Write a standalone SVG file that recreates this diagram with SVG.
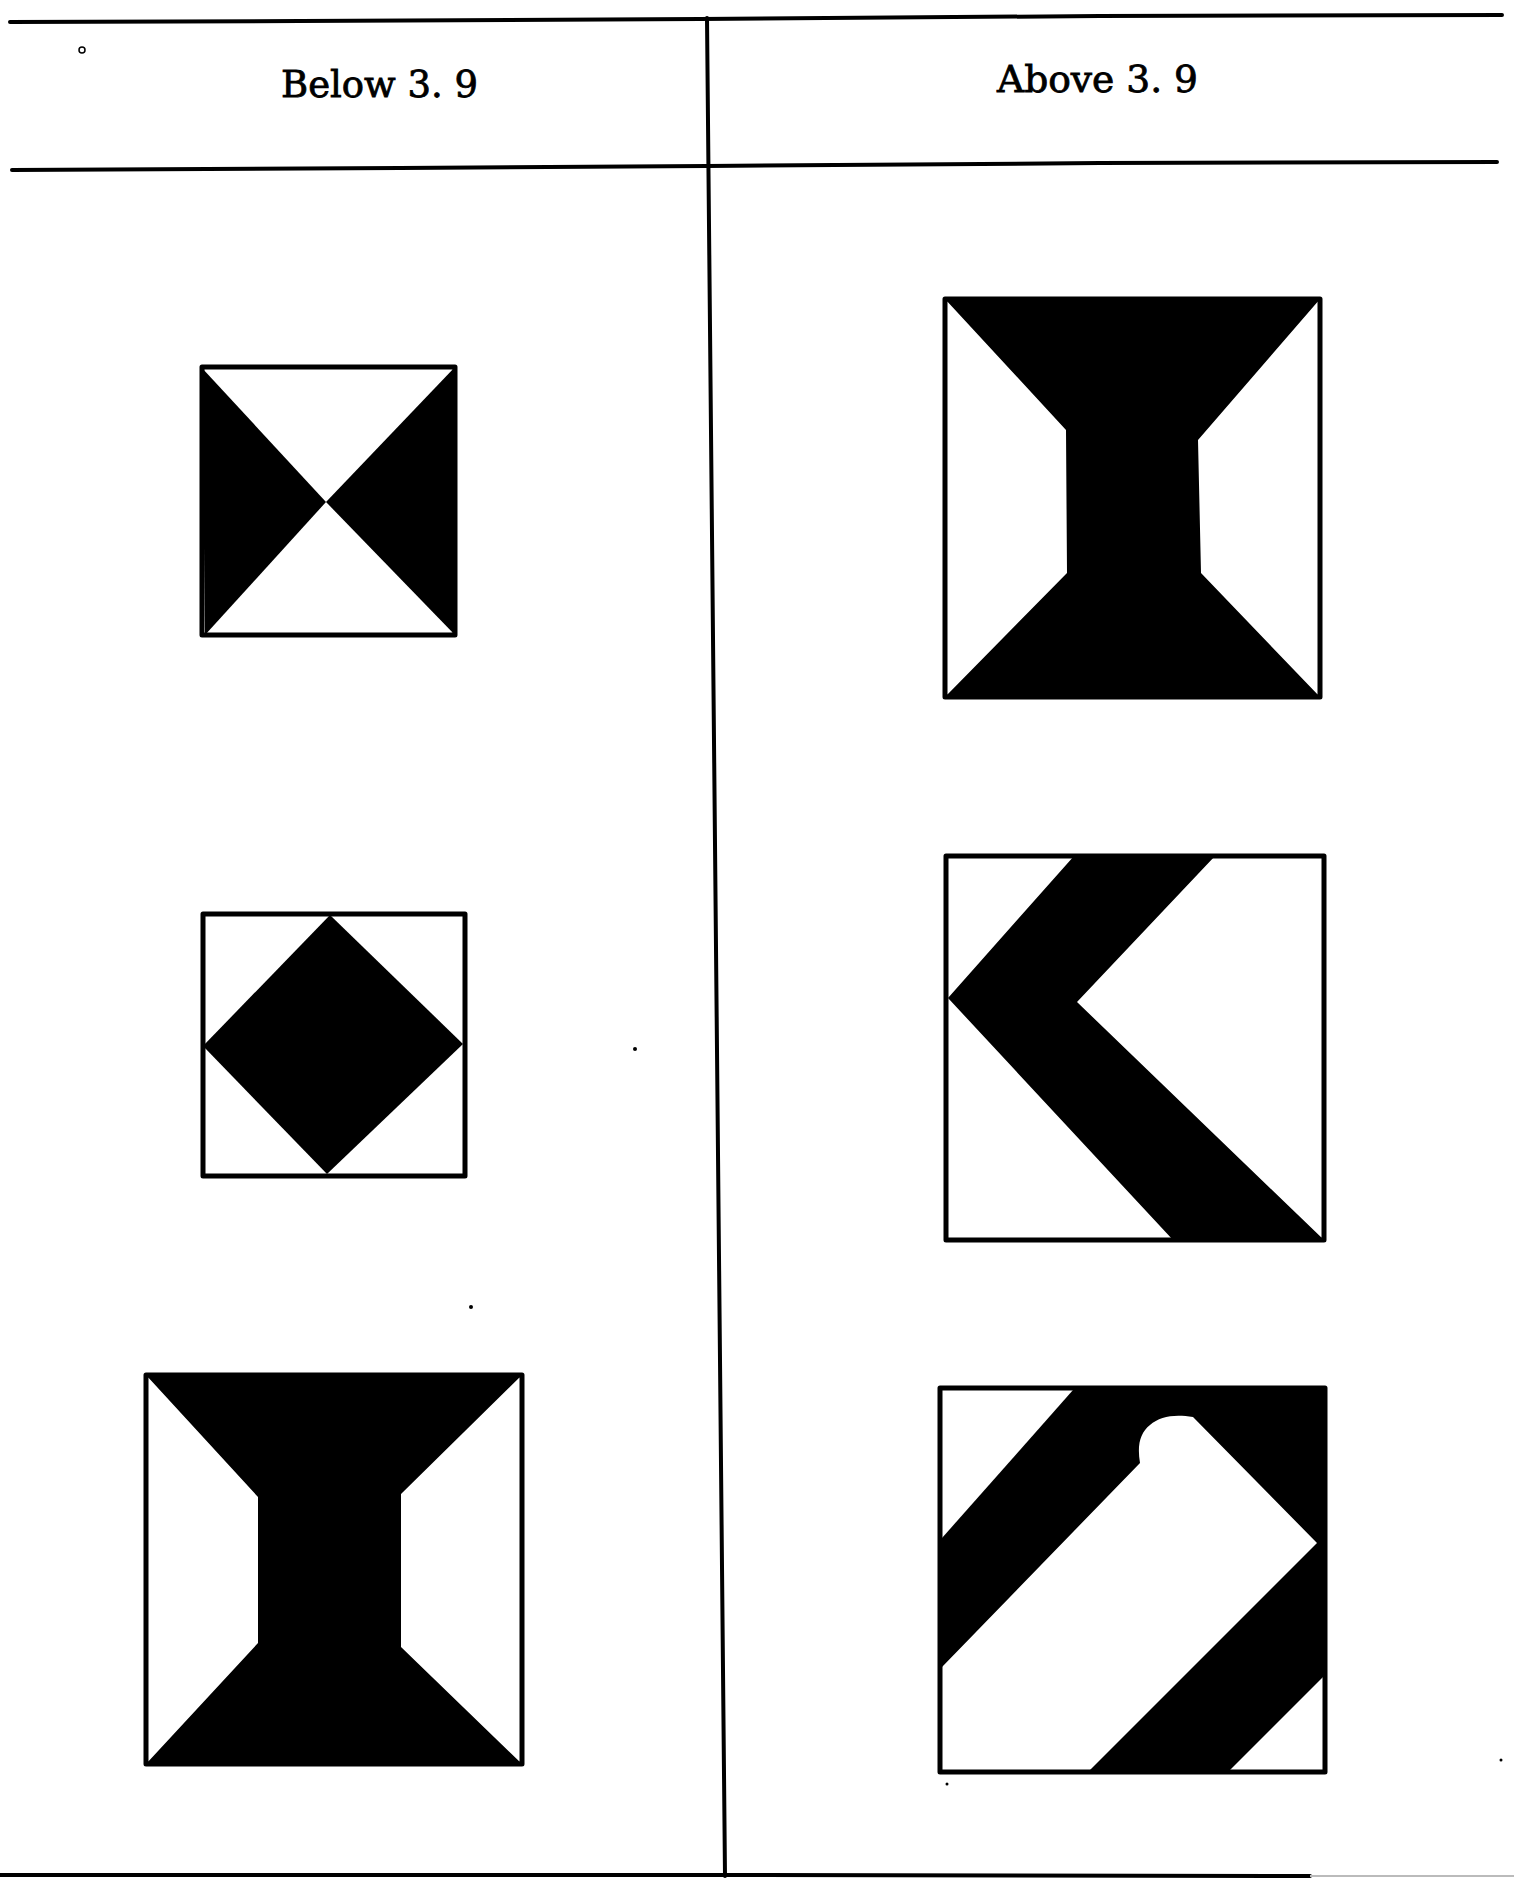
<svg xmlns="http://www.w3.org/2000/svg" width="1514" height="1879" viewBox="0 0 1514 1879">
<style>
.rule{stroke:#000;stroke-width:4;fill:none;stroke-linecap:round}
.box{fill:none;stroke:#000;stroke-width:5;stroke-linejoin:round}
.ink{fill:#000;stroke:none}
.paper{fill:#fff;stroke:none}
.hdr{font-family:"DejaVu Serif","Liberation Serif",serif;font-size:37px;fill:#000;stroke:#000;stroke-width:0.8}
</style>
<rect width="1514" height="1879" fill="#fff"/>
<g id="grid">
<polyline class="rule" points="10,22 300,21 700,19 1100,16 1502,15"/>
<polyline class="rule" points="12,170 400,168 707,166 1100,163 1497,162"/>
<line class="rule" x1="707" y1="18" x2="725" y2="1876"/>
<polyline class="rule" points="0,1875 700,1875 1310,1876"/>
<line x1="1310" y1="1876" x2="1514" y2="1876" stroke="#bbb" stroke-width="2"/>
</g>
<g id="header-below">
<text class="hdr" x="281" y="97" textLength="197" lengthAdjust="spacingAndGlyphs">Below 3. 9</text>
</g>
<g id="header-above">
<text class="hdr" x="997" y="92" textLength="201" lengthAdjust="spacingAndGlyphs">Above 3. 9</text>
</g>
<g id="below-1">
<polygon class="ink" points="202,368 326,502 205,635"/>
<polygon class="ink" points="455,367 326,502 455,635"/>
<rect class="box" x="202" y="367" width="253" height="268"/>
</g>
<g id="below-2">
<polygon class="ink" points="330,915 463,1044 327,1174 203,1046"/>
<rect class="box" x="203" y="914" width="262" height="262"/>
</g>
<g id="below-3">
<polygon class="ink" points="146,1375 522,1375 401,1494 401,1647 522,1764 146,1764 258,1643 258,1497"/>
<rect class="box" x="146" y="1375" width="376" height="389"/>
</g>
<g id="above-1">
<polygon class="ink" points="945,299 1320,299 1198,440 1201,573 1320,697 945,697 1067,573 1066,430"/>
<rect class="box" x="945" y="299" width="375" height="398"/>
</g>
<g id="above-2">
<polygon class="ink" points="1074,856 1215,856 1077,1002 1324,1240 1173,1240 948,998"/>
<rect class="box" x="946" y="856" width="378" height="384"/>
</g>
<g id="above-3">
<rect class="ink" x="940" y="1388" width="385" height="384"/>
<polygon class="paper" points="942,1390 1073,1390 942,1538"/>
<polygon class="paper" points="1230,1770 1323,1770 1323,1677"/>
<path class="paper" d="M942,1667 L942,1770 L1090,1770 L1317,1543 L1193,1417 C1175,1414 1160,1416 1150,1425 C1140,1433 1137,1445 1140,1463 Z"/>
<rect class="box" x="940" y="1388" width="385" height="384"/>
</g>
<g id="specks">
<circle cx="82" cy="50" r="3" fill="none" stroke="#000" stroke-width="1.5"/>
<circle cx="635" cy="1049" r="2" class="ink"/>
<circle cx="471" cy="1307" r="2" class="ink"/>
<circle cx="947" cy="1784" r="1.5" class="ink"/>
<circle cx="1501" cy="1760" r="1.5" class="ink"/>
</g>
</svg>
